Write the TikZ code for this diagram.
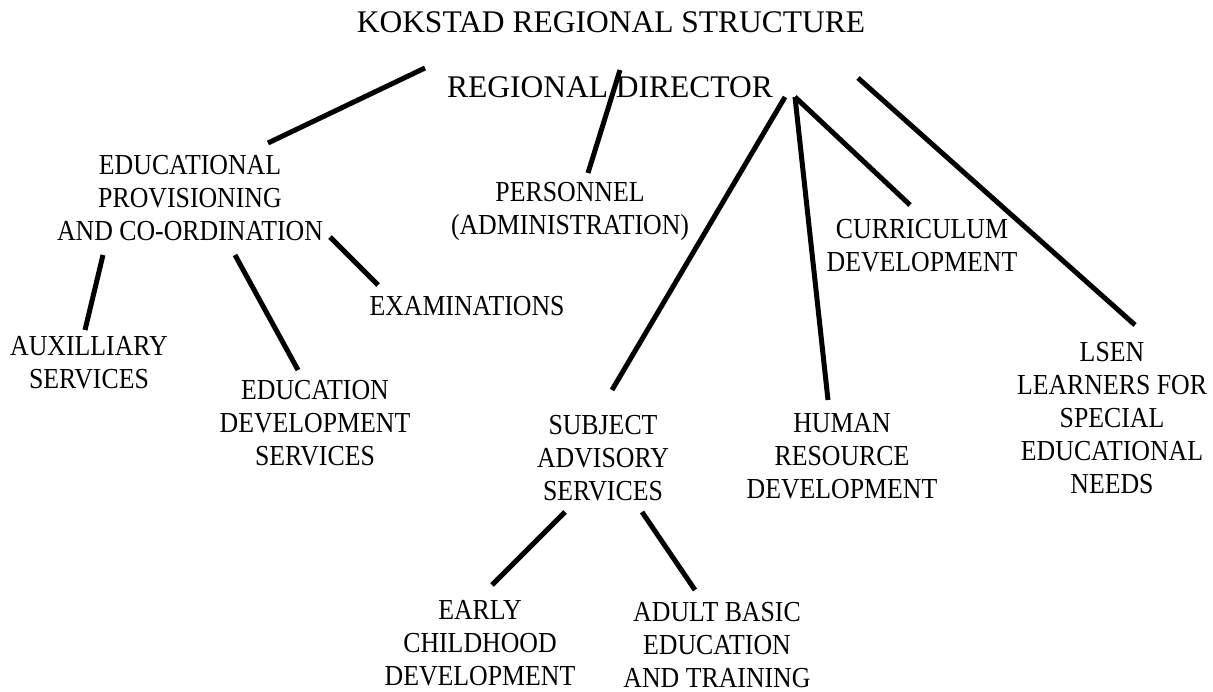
\documentclass[tikz,border=0pt]{standalone}
\usepackage{fontspec}
\setmainfont{Liberation Serif}
\newfontfamily\unitfont[FakeStretch=0.89]{Liberation Serif}
\begin{document}
\begin{tikzpicture}[
	x=1pt, y=-1pt,
	unit/.style={ align=center, inner sep=0pt, font=\unitfont\fontsize{29}{33}\selectfont },
	head/.style={ inner sep=0pt, font=\fontsize{31.5}{36}\selectfont },
	link/.style={ line width=5pt }
]

\useasboundingbox (0,0) rectangle (1213,692);

% heading and director
\node[head] at (611,22) (title) {KOKSTAD REGIONAL STRUCTURE};
\node[head] at (610,87) (dir) {REGIONAL DIRECTOR};

% first level
\node[unit] at (190,198) (ep) {EDUCATIONAL\\PROVISIONING\\AND CO-ORDINATION};
\node[unit] at (570,211) (pers) {PERSONNEL\\(ADMINISTRATION)};
\node[unit] at (922,246) (curr) {CURRICULUM\\DEVELOPMENT};
\node[unit] at (603,458) (sas) {SUBJECT\\ADVISORY\\SERVICES};
\node[unit] at (842,456) (hrd) {HUMAN\\RESOURCE\\DEVELOPMENT};
\node[unit] at (1112,418) (lsen) {LSEN\\LEARNERS FOR\\SPECIAL\\EDUCATIONAL\\NEEDS};

% under educational provisioning
\node[unit] at (467,306) (exam) {EXAMINATIONS};
\node[unit] at (89,363) (aux) {AUXILLIARY\\SERVICES};
\node[unit] at (315,423) (eds) {EDUCATION\\DEVELOPMENT\\SERVICES};

% under subject advisory
\node[unit] at (480,643) (ecd) {EARLY\\CHILDHOOD\\DEVELOPMENT};
\node[unit] at (717,645) (abet) {ADULT BASIC\\EDUCATION\\AND TRAINING};

% line ends
\coordinate (dir-ep) at (425,68);
\coordinate (ep-top) at (268,143);
\coordinate (dir-pers) at (620,70);
\coordinate (pers-top) at (588,173);
\coordinate (dir-sas) at (785,97);
\coordinate (sas-top) at (612,390);
\coordinate (dir-hrd) at (795,97);
\coordinate (hrd-top) at (828,400);
\coordinate (curr-top) at (910,205);
\coordinate (dir-lsen) at (858,78);
\coordinate (lsen-top) at (1135,325);
\coordinate (ep-exam) at (330,237);
\coordinate (exam-top) at (378,285);
\coordinate (ep-aux) at (103,255);
\coordinate (aux-top) at (85,330);
\coordinate (ep-eds) at (235,255);
\coordinate (eds-top) at (298,370);
\coordinate (sas-ecd) at (565,512);
\coordinate (ecd-top) at (492,585);
\coordinate (sas-abet) at (642,512);
\coordinate (abet-top) at (695,590);

\draw[link] (dir-ep) to (ep-top);
\draw[link] (dir-pers) to (pers-top);
\draw[link] (dir-sas) to (sas-top);
\draw[link] (dir-hrd) to (hrd-top);
\draw[link] (dir-hrd) to (curr-top);
\draw[link] (dir-lsen) to (lsen-top);
\draw[link] (ep-exam) to (exam-top);
\draw[link] (ep-aux) to (aux-top);
\draw[link] (ep-eds) to (eds-top);
\draw[link] (sas-ecd) to (ecd-top);
\draw[link] (sas-abet) to (abet-top);

\end{tikzpicture}
\end{document}
